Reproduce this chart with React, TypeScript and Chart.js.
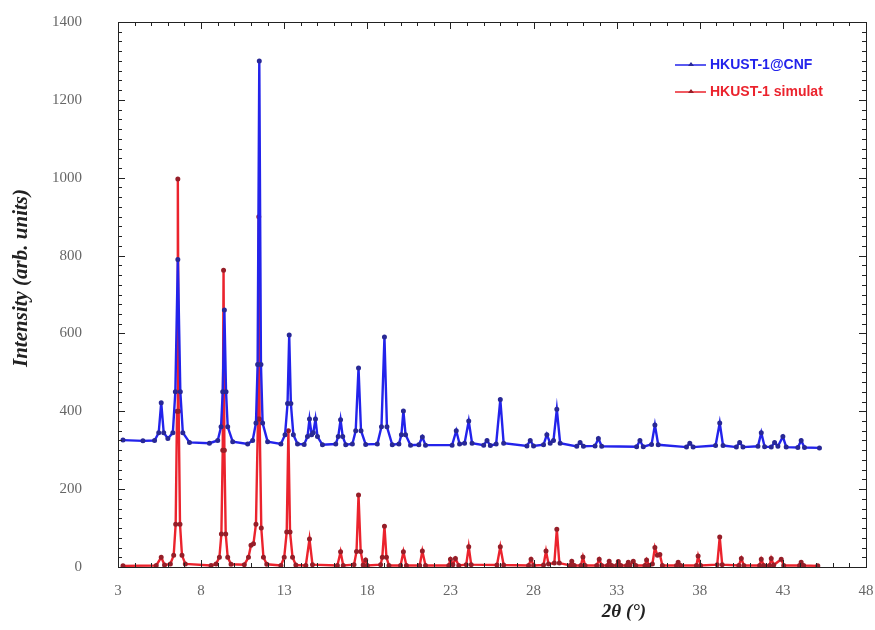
import React, { useEffect, useRef } from "react";
import { Chart, registerables } from "chart.js";

Chart.register(...registerables);

const seriesLabels = ["HKUST-1@CNF", "HKUST-1 simulat"];
const xTickValues = [3, 8, 13, 18, 23, 28, 33, 38, 43, 48];
const yTickValues = [0, 200, 400, 600, 800, 1000, 1200, 1400];

const blueX = [3.3, 4.5, 5.2, 5.45, 5.6, 5.75, 6.0, 6.3, 6.45, 6.6, 6.75, 6.9, 7.3, 8.5, 9.0, 9.2, 9.3, 9.4, 9.5, 9.6, 9.9, 10.8, 11.1, 11.3, 11.4, 11.5, 11.6, 11.7, 12.0, 12.8, 13.05, 13.2, 13.3, 13.4, 13.55, 13.8, 14.2, 14.4, 14.52, 14.65, 14.75, 14.88, 15.0, 15.3, 16.1, 16.25, 16.39, 16.52, 16.7, 17.1, 17.3, 17.47, 17.62, 17.9, 18.6, 18.85, 19.03, 19.18, 19.5, 19.9, 20.05, 20.17, 20.3, 20.6, 21.1, 21.31, 21.5, 23.1, 23.35, 23.55, 23.85, 24.1, 24.3, 25.0, 25.2, 25.4, 25.75, 26.0, 26.2, 27.6, 27.8, 28.0, 28.6, 28.8, 29.0, 29.2, 29.4, 29.6, 30.6, 30.8, 31.0, 31.7, 31.9, 32.1, 34.2, 34.4, 34.6, 35.1, 35.3, 35.5, 37.2, 37.4, 37.6, 38.95, 39.2, 39.4, 40.2, 40.4, 40.6, 41.5, 41.7, 41.9, 42.3, 42.5, 42.7, 43.0, 43.2, 43.9, 44.1, 44.3, 45.2];
const blueY = [326, 324, 325, 345, 422, 345, 330, 345, 450, 790, 450, 345, 320, 318, 325, 360, 450, 660, 450, 360, 322, 316, 325, 370, 520, 1300, 520, 370, 322, 316, 340, 420, 596, 420, 340, 316, 315, 335, 380, 340, 345, 380, 335, 314, 316, 335, 378, 335, 314, 316, 350, 511, 350, 315, 316, 360, 591, 360, 314, 316, 340, 401, 340, 313, 314, 334, 313, 313, 350, 316, 318, 375, 318, 313, 325, 312, 316, 430, 318, 311, 325, 311, 314, 340, 318, 325, 405, 318, 310, 320, 310, 311, 330, 310, 309, 325, 309, 315, 365, 314, 308, 318, 308, 312, 370, 312, 308, 320, 308, 310, 345, 309, 308, 320, 310, 335, 308, 307, 325, 307, 306];

const redX = [3.3, 5.3, 5.6, 5.8, 6.15, 6.35, 6.47, 6.55, 6.6, 6.65, 6.73, 6.85, 7.05, 8.6, 8.9, 9.1, 9.22, 9.3, 9.35, 9.4, 9.48, 9.6, 9.8, 10.6, 10.85, 11.0, 11.15, 11.3, 11.42, 11.47, 11.52, 11.62, 11.75, 11.95, 12.8, 13.0, 13.15, 13.25, 13.35, 13.5, 13.7, 14.3, 14.52, 14.7, 16.2, 16.39, 16.55, 17.2, 17.35, 17.47, 17.6, 17.75, 17.9, 18.0, 18.8, 18.9, 19.03, 19.15, 19.3, 20.0, 20.17, 20.35, 21.15, 21.31, 21.5, 22.9, 23.0, 23.15, 23.3, 23.5, 23.95, 24.1, 24.25, 25.8, 26.0, 26.2, 27.7, 27.85, 28.0, 28.6, 28.75, 28.9, 29.25, 29.4, 29.55, 30.2, 30.3, 30.45, 30.85, 30.97, 31.1, 31.8, 31.95, 32.1, 32.45, 32.55, 32.7, 33.0, 33.1, 33.25, 33.6, 33.7, 33.8, 34.0, 34.15, 34.7, 34.8, 34.95, 35.15, 35.3, 35.45, 35.6, 35.75, 36.6, 36.7, 36.85, 37.8, 37.9, 38.05, 39.05, 39.2, 39.35, 40.35, 40.5, 40.65, 41.6, 41.7, 41.85, 42.2, 42.3, 42.45, 42.9, 43.05, 44.0, 44.1, 44.25, 45.1];
const redY = [3, 4, 25, 5, 8, 30, 110, 400, 997, 400, 110, 30, 8, 4, 8, 25, 85, 300, 762, 300, 85, 25, 7, 6, 25, 56, 60, 110, 380, 900, 380, 100, 25, 7, 4, 25, 90, 350, 90, 25, 5, 4, 72, 6, 4, 39, 4, 6, 40, 185, 40, 5, 18, 4, 6, 25, 105, 25, 4, 4, 39, 4, 4, 41, 4, 4, 20, 6, 22, 4, 6, 52, 6, 5, 52, 5, 4, 20, 4, 5, 41, 8, 10, 97, 10, 4, 15, 4, 4, 26, 4, 4, 20, 4, 4, 15, 4, 4, 14, 4, 4, 12, 4, 15, 4, 4, 18, 4, 8, 50, 30, 32, 4, 4, 12, 4, 4, 28, 4, 6, 77, 6, 4, 22, 4, 4, 20, 4, 4, 22, 5, 20, 4, 4, 12, 4, 3];

const BLUE = "rgb(35,35,235)";
const RED = "rgb(235,35,45)";
const BLUE_PT = "rgb(40,40,150)";
const RED_PT = "rgb(150,30,40)";

const framePlugin = {
  id: "frameTicks",
  afterDraw(chart: any) {
    const { ctx, chartArea: a, scales } = chart;
    const xs = scales.x;
    const ys = scales.y;
    ctx.save();
    ctx.strokeStyle = "#222";
    ctx.lineWidth = 1;
    ctx.strokeRect(a.left + 0.5, a.top + 0.5, a.right - a.left, a.bottom - a.top);
    ctx.beginPath();
    for (let v = xs.min; v <= xs.max; v += 1) {
      const px = Math.round(xs.getPixelForValue(v)) + 0.5;
      const len = (v - xs.min) % 5 === 0 ? 7 : 4;
      ctx.moveTo(px, a.bottom);
      ctx.lineTo(px, a.bottom - len);
      ctx.moveTo(px, a.top);
      ctx.lineTo(px, a.top + len);
    }
    for (let v = ys.min; v <= ys.max; v += 25) {
      const py = Math.round(ys.getPixelForValue(v)) + 0.5;
      const len = v % 200 === 0 ? 7 : 4;
      ctx.moveTo(a.left, py);
      ctx.lineTo(a.left + len, py);
      ctx.moveTo(a.right, py);
      ctx.lineTo(a.right - len, py);
    }
    ctx.stroke();

    // axis titles
    ctx.fillStyle = "#222";
    ctx.font = "italic bold 19px 'Liberation Serif'";
    ctx.textAlign = "center";
    ctx.textBaseline = "middle";
    ctx.fillText("2θ (°)", 624, 612);
    ctx.save();
    ctx.translate(22, 278);
    ctx.rotate(-Math.PI / 2);
    ctx.font = "italic bold 21px 'Liberation Serif'";
    ctx.fillText("Intensity (arb. units)", 0, 0);
    ctx.restore();

    // legend
    const items = chart.data.datasets;
    items.forEach((ds: any, i: number) => {
      const y = 65 + i * 27;
      const x0 = 675;
      ctx.strokeStyle = ds.borderColor;
      ctx.lineWidth = 1.5;
      ctx.beginPath();
      ctx.moveTo(x0, y);
      ctx.lineTo(x0 + 31, y);
      ctx.stroke();
      ctx.fillStyle = ds.pointBackgroundColor;
      ctx.beginPath();
      ctx.moveTo(x0 + 16, y - 3);
      ctx.lineTo(x0 + 19, y + 1);
      ctx.lineTo(x0 + 13, y + 1);
      ctx.closePath();
      ctx.fill();
      ctx.fillStyle = ds.borderColor;
      ctx.font = "bold 14px 'Liberation Sans'";
      ctx.textAlign = "left";
      ctx.textBaseline = "middle";
      ctx.fillText(ds.label, x0 + 35, y);
    });
    ctx.restore();
  },
};

export default function App() {
  const ref = useRef<HTMLCanvasElement | null>(null);
  useEffect(() => {
    if (!ref.current) return;
    const chart = new Chart(ref.current, {
      type: "line",
      data: {
        datasets: [
          {
            label: seriesLabels[0],
            data: blueX.map((x, i) => ({ x, y: blueY[i] })),
            borderColor: BLUE,
            backgroundColor: BLUE,
            pointBackgroundColor: BLUE_PT,
            pointBorderColor: BLUE_PT,
            borderWidth: 2.4,
            pointRadius: 1.3,
            pointStyle: "circle",
            tension: 0,
          },
          {
            label: seriesLabels[1],
            data: redX.map((x, i) => ({ x, y: redY[i] })),
            borderColor: RED,
            backgroundColor: RED,
            pointBackgroundColor: RED_PT,
            pointBorderColor: RED_PT,
            borderWidth: 2.4,
            pointRadius: 1.3,
            pointStyle: "circle",
            tension: 0,
          },
        ],
      },
      options: {
        responsive: false,
        animation: false,
        layout: { padding: { top: 22, right: 9, left: 0, bottom: 0 } },
        plugins: { legend: { display: false }, tooltip: { enabled: false } },
        scales: {
          x: {
            type: "linear",
            min: 3,
            max: 48,
            afterFit: (s: any) => {
              s.height = 63;
              s.paddingLeft = 0;
              s.paddingRight = 0;
            },
            afterBuildTicks: (s: any) => { s.ticks = xTickValues.map((v) => ({ value: v })); },
            grid: { display: false, drawTicks: false },
            border: { display: false },
            ticks: {
              padding: 15,
              color: "#666",
              font: { family: "'Liberation Serif'", size: 15 },
              callback: (v: any) => String(v),
            },
          },
          y: {
            type: "linear",
            min: 0,
            max: 1400,
            afterFit: (s: any) => {
              s.width = 118;
              s.paddingTop = 0;
              s.paddingBottom = 0;
            },
            afterBuildTicks: (s: any) => { s.ticks = yTickValues.map((v) => ({ value: v })); },
            grid: { display: false, drawTicks: false },
            border: { display: false },
            ticks: {
              padding: 36,
              color: "#666",
              font: { family: "'Liberation Serif'", size: 15 },
              callback: (v: any) => String(v),
            },
          },
        },
      },
      plugins: [framePlugin],
    });
    return () => chart.destroy();
  }, []);
  return (
    <div style={{ position: "fixed", left: 0, top: 0, width: 875, height: 630, background: "#fff" }}>
      <canvas ref={ref} width={875} height={630} />
    </div>
  );
}
